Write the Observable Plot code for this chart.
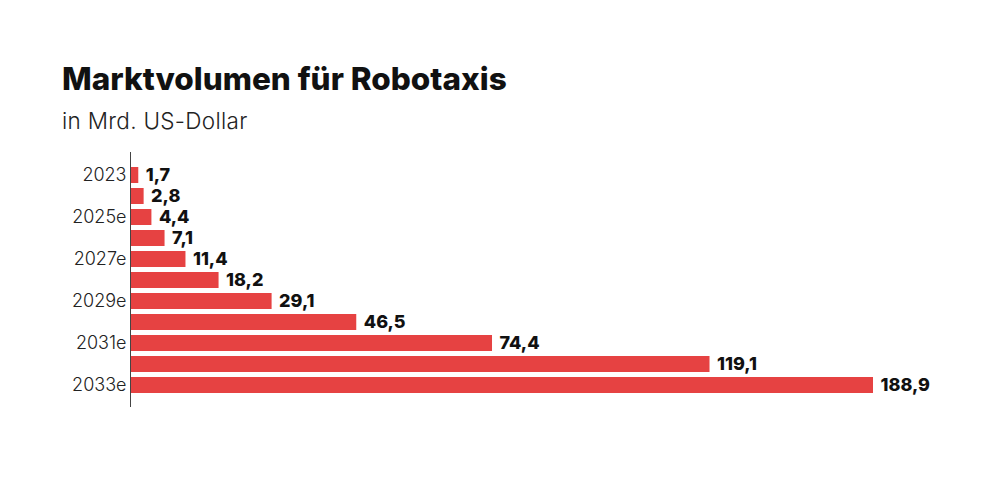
<!DOCTYPE html>
<html>
<head>
<meta charset="utf-8">
<script src="https://cdn.jsdelivr.net/npm/d3@7"></script>
<script src="https://cdn.jsdelivr.net/npm/@observablehq/plot@0.6"></script>
<style>
  html, body { margin: 0; padding: 0; background: #fff; }
  #wrap { position: relative; width: 1000px; height: 477px; overflow: hidden; }
  #title { position: absolute; left: 62px; top: 59px; font-family: Inter, sans-serif; font-weight: 800; font-size: 31.5px; letter-spacing: 0px; color: #111; white-space: nowrap; }
  #subtitle { position: absolute; left: 62px; top: 107px; font-family: Inter, sans-serif; font-weight: 300; font-size: 22.5px; letter-spacing: 0.3px; color: #222; white-space: nowrap; }
  #chart { position: absolute; left: 0; top: 147px; }
</style>
</head>
<body>
<div id="wrap">
  <div id="title">Marktvolumen für Robotaxis</div>
  <div id="subtitle">in Mrd. US-Dollar</div>
  <div id="chart"></div>
</div>
<script>
const years = ["2023", "2024e", "2025e", "2026e", "2027e", "2028e", "2029e", "2030e", "2031e", "2032e", "2033e"];
const values = [1.7, 2.8, 4.4, 7.1, 11.4, 18.2, 29.1, 46.5, 74.4, 119.1, 188.9];
const yTickLabels = ["2023", "2025e", "2027e", "2029e", "2031e", "2033e"];
const xCap = 152.7; // the last bar is drawn truncated in the original

const data = years.map((y, i) => ({year: y, value: values[i]}));
const fmt = v => d3.format(".1f")(v).replace(".", ",");

const chart = Plot.plot({
  width: 1000,
  height: 330,
  marginLeft: 130,
  marginRight: 127,
  marginTop: 5,
  marginBottom: 70,
  style: {fontFamily: "Inter, sans-serif", background: "transparent", overflow: "visible"},
  x: {domain: [0, xCap], clamp: true, axis: null},
  y: {domain: years, paddingInner: 0.26, paddingOuter: 0.53, label: null, tickSize: 0, tickPadding: 4, ticks: yTickLabels},
  marks: [
    Plot.barX(data, {x: "value", y: "year", fill: "#e64242"}),
    Plot.text(data, {x: "value", y: "year", text: d => fmt(d.value), textAnchor: "start", dx: 7, fontWeight: 800, fontSize: 18, fill: "#111"}),
    Plot.axisY({ticks: yTickLabels, tickSize: 0, tickPadding: 4, fontSize: 18, fontWeight: 300, fill: "#222", label: null}),
    Plot.ruleX([0], {stroke: "#444", strokeWidth: 1})
  ]
});
document.getElementById("chart").appendChild(chart);
</script>
</body>
</html>
